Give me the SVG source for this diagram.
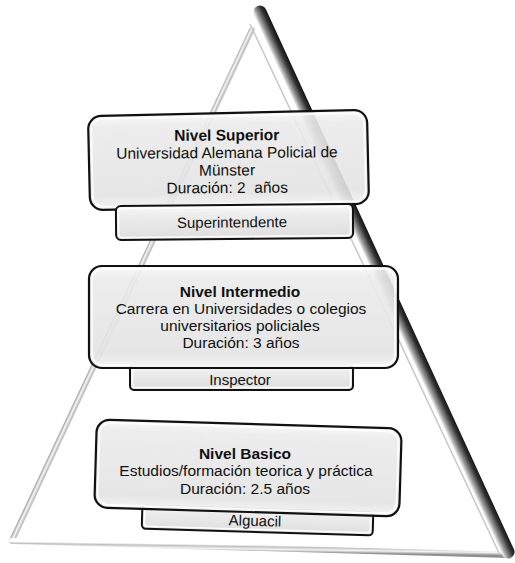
<svg xmlns="http://www.w3.org/2000/svg" width="515" height="563" viewBox="0 0 515 563">
<defs>
<linearGradient id="gRight" gradientUnits="userSpaceOnUse" x1="390.3" y1="279.1" x2="377.7" y2="284.9">
<stop offset="0" stop-color="#111"/><stop offset="0.3" stop-color="#333"/><stop offset="0.7" stop-color="#999"/><stop offset="1" stop-color="#fff"/>
</linearGradient>
<linearGradient id="gLeft" gradientUnits="userSpaceOnUse" x1="128.8" y1="284" x2="135.2" y2="287">
<stop offset="0" stop-color="#8a8a8a"/><stop offset="0.4" stop-color="#f6f6f6"/><stop offset="0.75" stop-color="#bbb"/><stop offset="1" stop-color="#fff"/>
</linearGradient>
<linearGradient id="gBase" gradientUnits="userSpaceOnUse" x1="260" y1="552" x2="260.1" y2="545">
<stop offset="0" stop-color="#8f8f8f"/><stop offset="0.4" stop-color="#f4f4f4"/><stop offset="0.75" stop-color="#c0c0c0"/><stop offset="1" stop-color="#fff"/>
</linearGradient>
<linearGradient id="gBox" x1="0" y1="0" x2="0" y2="1">
<stop offset="0" stop-color="#f8f8f8"/><stop offset="0.12" stop-color="#ebebeb"/><stop offset="0.85" stop-color="#e3e3e3"/><stop offset="1" stop-color="#f3f3f3"/>
</linearGradient>
<linearGradient id="gSub" x1="0" y1="0" x2="0" y2="1">
<stop offset="0" stop-color="#fafafa"/><stop offset="0.3" stop-color="#ececec"/><stop offset="1" stop-color="#dedede"/>
</linearGradient>
<style>
.box{fill:url(#gBox);fill-opacity:0.9;stroke:#111;stroke-width:2.2}
.hl{fill:none;stroke:#fff;stroke-width:1.6;opacity:0.9}
.sub{fill:url(#gSub);stroke:#111;stroke-width:2}
text{font-family:"Liberation Sans",Arial,sans-serif;font-size:15.5px;fill:#111;text-anchor:middle;white-space:pre}
.t{font-weight:bold}
.s{font-size:15px}
</style>
</defs>
<g id="pyramid">
<line x1="252" y1="30" x2="12" y2="541" stroke="url(#gLeft)" stroke-width="6" stroke-linecap="round"/>
<line x1="12" y1="541" x2="508" y2="555" stroke="url(#gBase)" stroke-width="6" stroke-linecap="round"/>
<line x1="250" y1="24" x2="499" y2="553" stroke="#c8c8c8" stroke-width="1.5"/>
<line x1="260" y1="12" x2="508" y2="552" stroke="url(#gRight)" stroke-width="13" stroke-linecap="round"/>
</g>
<g id="nivel-superior">
<rect class="box" x="89" y="113" width="279" height="94" rx="13" transform="rotate(-1.3 228 160)"/>
<rect class="hl" x="92" y="116" width="273" height="88" rx="11" transform="rotate(-1.3 228 160)"/>
<g transform="rotate(-0.4 228 165)">
<text class="t" x="227" y="140.5">Nivel Superior</text>
<text x="227" y="158">Universidad Alemana Policial de</text>
<text x="227" y="175.5">Münster</text>
<text x="227" y="193" xml:space="preserve">Duración: 2  años</text>
</g>
</g>
<g id="superintendente" transform="rotate(-0.5 234 222)">
<rect class="sub" x="116" y="205" width="237" height="34" rx="5"/>
<rect class="hl" x="118.5" y="207.5" width="232" height="29" rx="3.5"/>
<text class="s" x="232" y="227.5">Superintendente</text>
</g>
<g id="inspector">
<rect class="sub" x="130" y="365" width="223" height="25" rx="4"/>
<rect class="hl" x="132.5" y="367.5" width="218" height="20" rx="3"/>
<text class="s" x="240" y="385">Inspector</text>
</g>
<g id="nivel-intermedio">
<rect class="box" x="89" y="266" width="309" height="102" rx="13"/>
<rect class="hl" x="92" y="269" width="303" height="96" rx="11"/>
<text class="t" x="240" y="296.5">Nivel Intermedio</text>
<text x="241" y="313.5">Carrera en Universidades o colegios</text>
<text x="240" y="330.5">universitarios policiales</text>
<text x="241" y="347.5">Duración: 3 años</text>
</g>
<g id="alguacil" transform="rotate(1.7 257 521)">
<rect class="sub" x="142" y="509" width="231" height="23" rx="4"/>
<rect class="hl" x="144.5" y="511.5" width="226" height="18" rx="3"/>
<text class="s" x="255" y="526">Alguacil</text>
</g>
<g id="nivel-basico">
<rect class="box" x="95.5" y="424" width="305" height="88" rx="13" transform="rotate(1.7 248 468)"/>
<rect class="hl" x="98.5" y="427" width="299" height="82" rx="11" transform="rotate(1.7 248 468)"/>
<text class="t" x="245" y="458.5">Nivel Basico</text>
<text x="246" y="476">Estudios/formación teorica y práctica</text>
<text x="245" y="493.5">Duración: 2.5 años</text>
</g>
</svg>
